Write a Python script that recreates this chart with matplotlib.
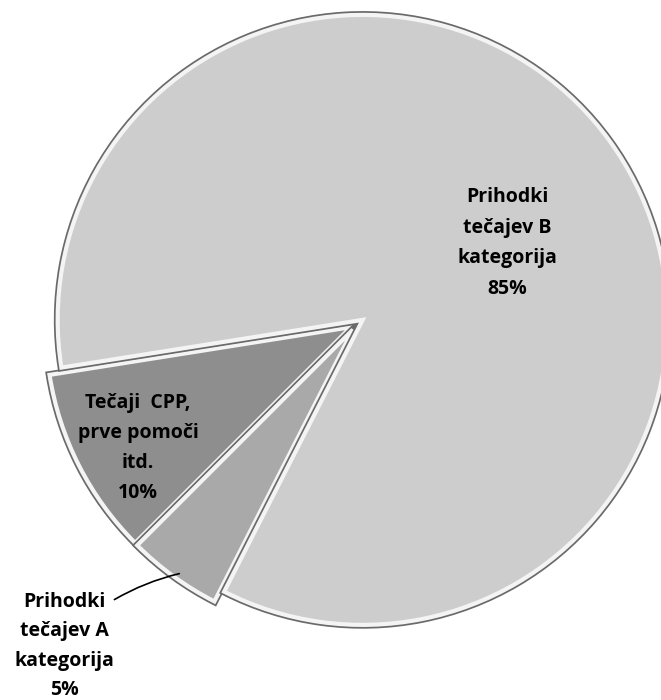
import matplotlib
matplotlib.use('Agg')
import matplotlib.pyplot as plt
import matplotlib.patheffects as pe

# slices in drawing order (counter-clockwise from start angle)
labels = ['Tečaji  CPP,\nprve pomoči\nitd.', 'Prihodki\ntečajev A\nkategorija', 'Prihodki\ntečajev B\nkategorija']
shares = [10, 5, 85]
colors = ['#8e8e8e', '#a9a9a9', '#cdcdcd']
explode = [7, 7, 7]

H = 700  # flip image y into data y
fig = plt.figure(figsize=(6.61, 7.0), dpi=100)
ax = fig.add_axes([0, 0, 1, 1])

wedges, _ = ax.pie(shares, colors=colors, explode=explode, startangle=189,
                   counterclock=True, radius=305, center=(357, H - 324),
                   wedgeprops=dict(edgecolor='#f4f4f4', linewidth=3))
for w in wedges:
    w.set_path_effects([pe.Stroke(linewidth=5.5, foreground='#6a6a6a'), pe.Normal()])

ax.set_xlim(0, 661)
ax.set_ylim(0, H)
ax.set_aspect('equal')
ax.axis('off')

font = dict(family=['Open Sans', 'DejaVu Sans'], fontweight='bold', fontsize=14,
            ha='center', va='center', color='#000000')

ax.text(138, H - 448, f'{labels[0]}\n{shares[0]}%', linespacing=1.68, **font)
ax.text(507, H - 243, f'{labels[2]}\n{shares[2]}%', linespacing=1.72, **font)
ax.text(64, H - 646, f'{labels[1]}\n{shares[1]}%', linespacing=1.62, **font)

# leader line for the small slice
ax.annotate('', xy=(182, H - 573), xytext=(112, H - 601),
            arrowprops=dict(arrowstyle='-', color='black', lw=1.2,
                            connectionstyle='arc3,rad=-0.08'))

fig.savefig('out.png', dpi=100, facecolor='white')
